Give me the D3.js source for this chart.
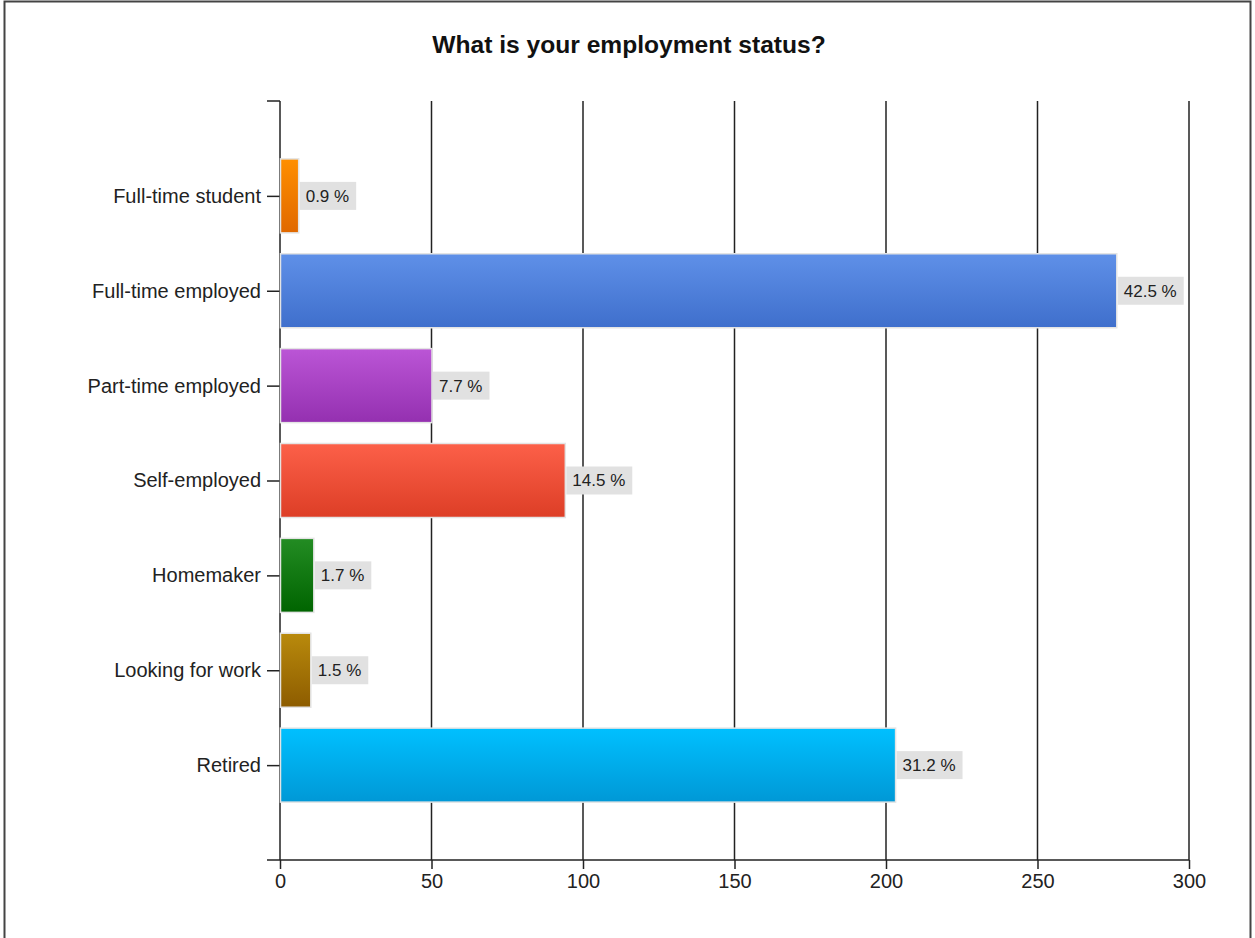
<!DOCTYPE html>
<html>
<head>
<meta charset="utf-8">
<script src="https://cdn.jsdelivr.net/npm/d3@7/dist/d3.min.js"></script>
<style>
  html, body { margin: 0; padding: 0; background: #fff; }
  svg { display: block; font-family: "Liberation Sans", Arial, sans-serif; }
</style>
</head>
<body>
<svg id="chart" width="1255" height="938"></svg>
<script>
// Survey answers: number of respondents per employment status
const categories = ["Full-time student", "Full-time employed", "Part-time employed",
                    "Self-employed", "Homemaker", "Looking for work", "Retired"];
const counts = [6, 276, 50, 94, 11, 10, 203];
const percentLabels = ["0.9 %", "42.5 %", "7.7 %", "14.5 %", "1.7 %", "1.5 %", "31.2 %"];
const xTicks = [0, 50, 100, 150, 200, 250, 300];
// top / bottom gradient colours for each bar
const colorTop = ["#ff8f00", "#5f90e8", "#bb55d6", "#fc6049", "#238c23", "#b98a0c", "#00c0ff"];
const colorBottom = ["#e06800", "#3f6fcc", "#9430b0", "#dd3e26", "#006400", "#8d5c00", "#0098d6"];

const svg = d3.select("#chart");

// outer frame
svg.append("rect")
  .attr("x", 4.5).attr("y", 1.5).attr("width", 1246).attr("height", 940)
  .attr("fill", "none").attr("stroke", "#444").attr("stroke-width", 2);

const plotLeft = 280, plotRight = 1189, plotTop = 101, plotBottom = 860;

const x = d3.scaleLinear().domain([0, 300]).range([plotLeft, plotRight]);
const y = d3.scalePoint().domain(categories).range([plotTop, plotBottom]).padding(1);
const barH = y.step() * 0.78;

// title
svg.append("text")
  .attr("x", 629).attr("y", 53)
  .attr("text-anchor", "middle")
  .attr("font-size", 24.6).attr("font-weight", "bold").attr("fill", "#111")
  .text("What is your employment status?");

// gradients
const defs = svg.append("defs");
categories.forEach((c, i) => {
  const g = defs.append("linearGradient").attr("id", "grad" + i)
    .attr("x1", 0).attr("y1", 0).attr("x2", 0).attr("y2", 1);
  g.append("stop").attr("offset", "0%").attr("stop-color", colorTop[i]);
  g.append("stop").attr("offset", "100%").attr("stop-color", colorBottom[i]);
});

// vertical gridlines
svg.append("g").selectAll("line")
  .data(xTicks.filter(d => d > 0))
  .join("line")
  .attr("x1", d => x(d)).attr("x2", d => x(d))
  .attr("y1", plotTop).attr("y2", plotBottom)
  .attr("stroke", "#222").attr("stroke-width", 1.5);

// x axis
const xAxis = svg.append("g")
  .attr("transform", `translate(0,${plotBottom})`)
  .call(d3.axisBottom(x).tickValues(xTicks).tickSize(9).tickSizeOuter(0).tickPadding(5));
xAxis.select(".domain").remove();
xAxis.append("line")
  .attr("x1", plotLeft - 13).attr("x2", plotRight)
  .attr("stroke", "#222").attr("stroke-width", 1.5);
xAxis.selectAll(".tick line").attr("stroke", "#222").attr("stroke-width", 1.5);
xAxis.selectAll(".tick text")
  .attr("font-size", 20).attr("fill", "#222")
  .attr("font-family", "Liberation Sans, Arial, sans-serif");

// y axis
const yAxis = svg.append("g")
  .attr("transform", `translate(${plotLeft},0)`)
  .call(d3.axisLeft(y).tickSize(13).tickSizeOuter(0).tickPadding(6));
yAxis.select(".domain").remove();
yAxis.append("line")
  .attr("y1", plotTop).attr("y2", plotBottom)
  .attr("stroke", "#222").attr("stroke-width", 1.5);
yAxis.append("line")
  .attr("x1", -13).attr("x2", 0).attr("y1", plotTop).attr("y2", plotTop)
  .attr("stroke", "#222").attr("stroke-width", 1.5);
yAxis.selectAll(".tick line").attr("stroke", "#222").attr("stroke-width", 1.5);
yAxis.selectAll(".tick text")
  .attr("font-size", 20).attr("fill", "#222")
  .attr("font-family", "Liberation Sans, Arial, sans-serif");

// bars
const rows = categories.map((c, i) => ({ c, v: counts[i], label: percentLabels[i], i }));
svg.append("g").selectAll("rect")
  .data(rows)
  .join("rect")
  .attr("x", x(0) + 0.5)
  .attr("y", d => y(d.c) - barH / 2)
  .attr("width", d => x(d.v) - x(0))
  .attr("height", barH)
  .attr("fill", d => `url(#grad${d.i})`)
  .attr("stroke", "#e4e4e4").attr("stroke-width", 1.5);

// value labels with grey backgrounds
const lab = svg.append("g").selectAll("g")
  .data(rows)
  .join("g")
  .attr("transform", d => `translate(${x(d.v) + 1.5},${y(d.c)})`);
lab.append("text")
  .attr("x", 6).attr("dy", "0.35em")
  .attr("font-size", 17).attr("fill", "#222")
  .text(d => d.label);
lab.each(function () {
  const g = d3.select(this);
  const bb = g.select("text").node().getBBox();
  g.insert("rect", "text")
    .attr("x", 0).attr("y", -14)
    .attr("width", bb.width + 13).attr("height", 28)
    .attr("fill", "#e1e1e1");
});
</script>
</body>
</html>
